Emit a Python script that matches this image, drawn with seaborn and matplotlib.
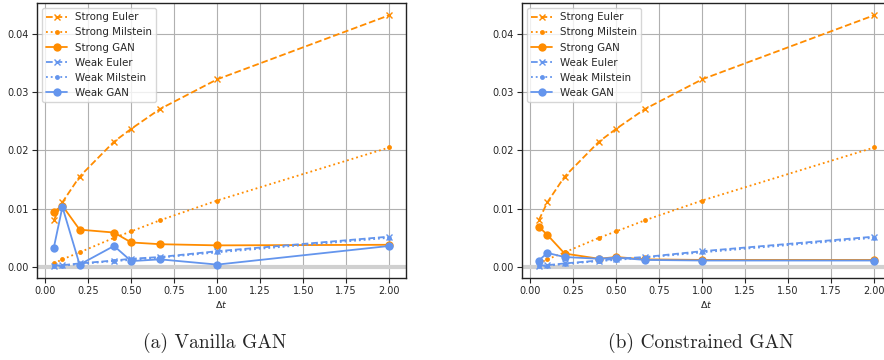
import matplotlib
matplotlib.use("Agg")
import matplotlib.pyplot as plt
import seaborn as sns
import pandas as pd

# Step sizes
dt = [0.05, 0.1, 0.2, 0.4, 0.5, 0.667, 1.0, 2.0]

# Reference schemes (shared by both panels)
strong_euler = [0.0080, 0.0111, 0.0155, 0.0215, 0.0237, 0.0271, 0.0322, 0.0432]
strong_milstein = [0.0006, 0.0013, 0.0025, 0.0050, 0.0061, 0.0080, 0.0114, 0.0205]
weak_euler = [0.0002, 0.0003, 0.0006, 0.0011, 0.0014, 0.0017, 0.0027, 0.0052]
weak_milstein = [0.0001, 0.0002, 0.0005, 0.0010, 0.0012, 0.0016, 0.0025, 0.0050]

# GAN errors
vanilla_strong_gan = [0.0095, 0.0105, 0.0064, 0.0059, 0.0042, 0.0039, 0.0037, 0.0038]
vanilla_weak_gan = [0.0033, 0.0103, 0.0004, 0.0036, 0.0010, 0.0013, 0.0004, 0.0036]
constrained_strong_gan = [0.0069, 0.0055, 0.0023, 0.0014, 0.0017, 0.0013, 0.0012, 0.0012]
constrained_weak_gan = [0.0011, 0.0024, 0.0017, 0.0014, 0.0016, 0.0012, 0.0011, 0.0011]

captions = ["(a) Vanilla GAN", "(b) Constrained GAN"]

ORANGE = "#ff8c00"
BLUE = "#6495ed"

sns.set_style("ticks", {"axes.grid": True, "grid.color": "#b0b0b0",
                        "axes.edgecolor": "#222222"})
plt.rcParams["font.family"] = ["DejaVu Sans"]
plt.rcParams["grid.linewidth"] = 0.8
plt.rcParams["mathtext.fontset"] = "dejavusans"

fig = plt.figure(figsize=(8.84, 3.6), dpi=100)
ax_a = fig.add_axes([0.0419, 0.2278, 0.4174, 0.7639])
ax_b = fig.add_axes([0.5905, 0.2278, 0.4174, 0.7639])

series_style = [
    ("Strong Euler", ORANGE, "--", "x", 5),
    ("Strong Milstein", ORANGE, ":", ".", 7),
    ("Strong GAN", ORANGE, "-", "o", 6),
    ("Weak Euler", BLUE, "--", "x", 5),
    ("Weak Milstein", BLUE, ":", ".", 7),
    ("Weak GAN", BLUE, "-", "o", 6),
]

panels = [
    (ax_a, [strong_euler, strong_milstein, vanilla_strong_gan,
            weak_euler, weak_milstein, vanilla_weak_gan]),
    (ax_b, [strong_euler, strong_milstein, constrained_strong_gan,
            weak_euler, weak_milstein, constrained_weak_gan]),
]

for (ax, values), caption in zip(panels, captions):
    ax.axhline(0, color="#d0d0d0", lw=3, zorder=1.5)
    for (label, color, ls, marker, ms), ys in zip(series_style, values):
        df = pd.DataFrame({"dt": dt, "err": ys})
        sns.lineplot(data=df, x="dt", y="err", ax=ax, color=color,
                     linestyle=ls, marker=marker, markersize=ms,
                     markeredgewidth=1.0 if marker == "x" else 0,
                     markeredgecolor=color, lw=1.3, label=label, zorder=3)
    ax.set_xticks([0.0, 0.25, 0.5, 0.75, 1.0, 1.25, 1.5, 1.75, 2.0])
    ax.set_yticks([0.0, 0.01, 0.02, 0.03, 0.04])
    ax.xaxis.set_major_formatter(matplotlib.ticker.FormatStrFormatter("%.2f"))
    ax.yaxis.set_major_formatter(matplotlib.ticker.FormatStrFormatter("%.2f"))
    ax.set_xlim(-0.0475, 2.0975)
    ax.set_ylim(-0.0019, 0.0453)
    ax.tick_params(labelsize=7, length=3.5, width=0.8, pad=2.5)
    ax.set_xlabel(r"$\Delta t$", fontsize=6.8, labelpad=2)
    ax.set_ylabel("")
    for s in ax.spines.values():
        s.set_linewidth(1.0)
    ax.legend(loc="upper left", fontsize=7.4, frameon=True, framealpha=0.8,
              edgecolor="#cccccc", borderaxespad=0.5, handlelength=2.0)

fig.text(215 / 884, 1 - 343 / 360, captions[0], fontfamily="cmr10",
         fontsize=14, ha="center", va="center")
fig.text(701 / 884, 1 - 343 / 360, captions[1], fontfamily="cmr10",
         fontsize=14, ha="center", va="center")

fig.savefig("out.png", dpi=100)
